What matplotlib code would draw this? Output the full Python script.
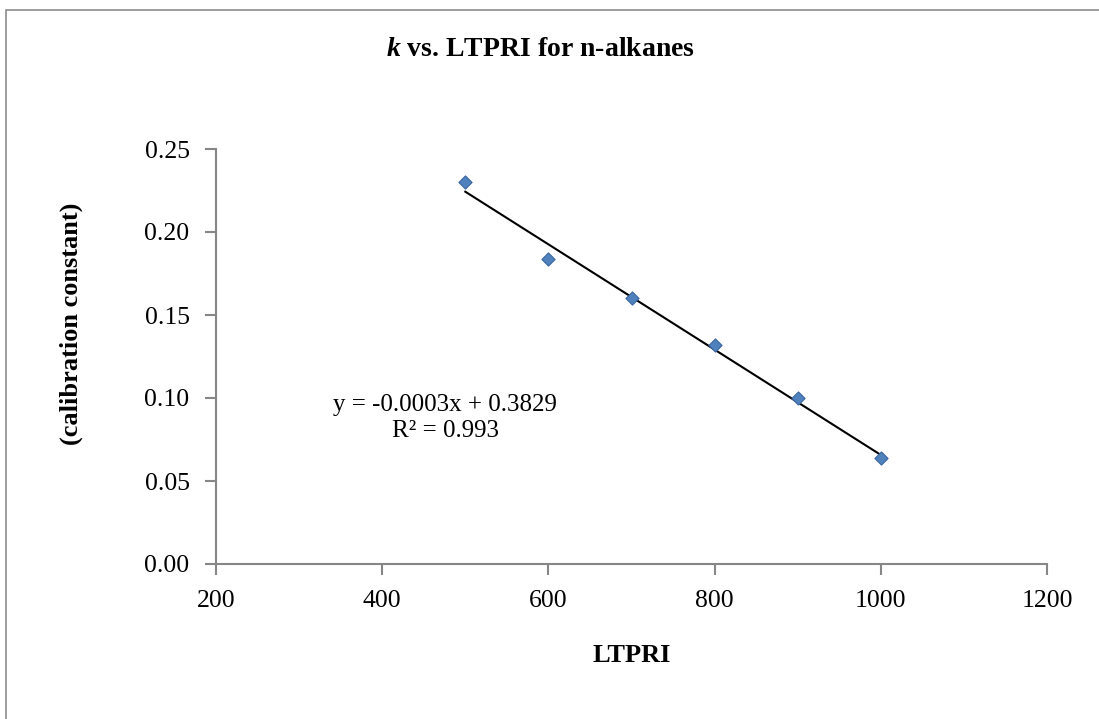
# k vs LTPRI calibration plot for n-alkanes, Excel-style
import numpy as np
import matplotlib
matplotlib.use('Agg')
import matplotlib.pyplot as plt
from matplotlib.patches import Rectangle

plt.rcParams['font.family'] = ['Liberation Serif', 'DejaVu Serif']
plt.rcParams['mathtext.fontset'] = 'custom'
plt.rcParams['mathtext.it'] = 'Liberation Serif:italic:bold'
plt.rcParams['mathtext.rm'] = 'Liberation Serif:bold'

# Data
ltpri = np.array([500, 600, 700, 800, 900, 1000])
k_val = np.array([0.230, 0.184, 0.160, 0.132, 0.100, 0.064])
x_ticks = [200, 400, 600, 800, 1000, 1200]
y_ticks = [0.00, 0.05, 0.10, 0.15, 0.20, 0.25]

# Linear trendline
slope, icpt = np.polyfit(ltpri, k_val, 1)
fit = slope*ltpri + icpt
r2 = 1 - np.sum((k_val-fit)**2)/np.sum((k_val-k_val.mean())**2)

W, H = 1099, 719
fig = plt.figure(figsize=(W/100, H/100), dpi=100, facecolor='white')

# Chart area border
fig.patches.append(Rectangle((6/W, -0.01), 1.1, (H-10)/H + 0.01,
                             transform=fig.transFigure, fill=False,
                             edgecolor='#8c8c8c', linewidth=1.2))

ax = fig.add_axes([216/W, (H-564)/H, 831/W, 415/H])
ax.plot(ltpri, fit, color='black', linewidth=1.5, zorder=2)
ax.scatter(ltpri, k_val, marker='D', s=45, facecolor='#4F81BD',
           edgecolor='#3A66A0', linewidth=0.8, zorder=3)

ax.set_xlim(200, 1200)
ax.set_ylim(0, 0.25)
ax.set_xticks(x_ticks)
ax.set_yticks(y_ticks)
ax.set_yticklabels(['%.2f' % v for v in y_ticks])
for s in ['top', 'right']:
    ax.spines[s].set_visible(False)
for s in ['left', 'bottom']:
    ax.spines[s].set_color('#868686')
    ax.spines[s].set_linewidth(1.5)
ax.tick_params(axis='both', direction='out', color='#868686', width=1.5,
               length=8, labelsize=18.5, labelcolor='black')
ax.tick_params(axis='x', pad=10.5)
ax.tick_params(axis='y', pad=11)

fig.text(632/W, 1-655/H, 'LTPRI', fontsize=19, fontweight='bold',
         ha='center', va='center')
fig.text(71/W, 1-324/H, '(calibration constant)', rotation=90,
         fontsize=19, fontweight='bold', ha='center', va='center')

fig.text(540/W, 1-50/H, r'$\it{k}$ vs. LTPRI for n-alkanes',
         fontsize=20, fontweight='bold', ha='center', va='center')

fig.text(445/W, 1-418/H,
         'y = %.4fx + %.4f\nR\u00b2 = %.3f' % (slope, icpt, r2),
         fontsize=18, ha='center', va='center', linespacing=1.2)

fig.savefig('out.png', dpi=100, facecolor='white')
